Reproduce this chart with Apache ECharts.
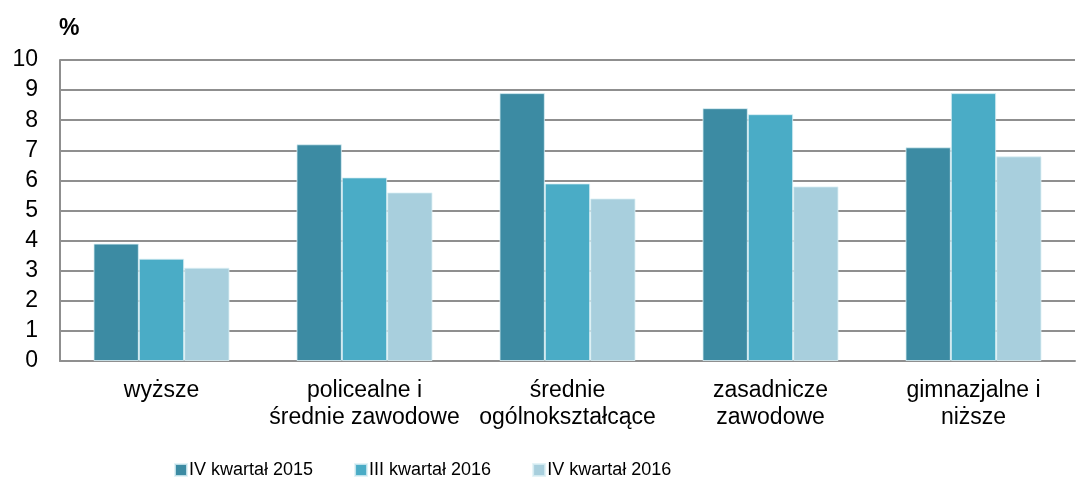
<!DOCTYPE html>
<html>
<head>
<meta charset="utf-8">
<script src="https://cdn.jsdelivr.net/npm/echarts@6/dist/echarts.min.js"></script>
<style>html,body{margin:0;padding:0;background:#fff}#c{width:1076px;height:487px}</style>
</head>
<body>
<div id="c"></div>
<script>
const categories = ['wyższe', 'policealne i\nśrednie zawodowe', 'średnie\nogólnokształcące', 'zasadnicze\nzawodowe', 'gimnazjalne i\nniższe'];
const seriesNames = ['IV kwartał 2015', 'III kwartał 2016', 'IV kwartał 2016'];
const q4_2015 = [3.9, 7.2, 8.9, 8.4, 7.1];
const q3_2016 = [3.4, 6.1, 5.9, 8.2, 8.9];
const q4_2016 = [3.1, 5.6, 5.4, 5.8, 6.8];
const colors = ['#3c8ba3', '#4aacc6', '#a8cfdd'];

const chart = echarts.init(document.getElementById('c'));
const data = [q4_2015, q3_2016, q4_2016];
chart.setOption({
  animation: false,
  color: colors,
  textStyle: { fontFamily: 'Liberation Sans, Arial, sans-serif', color: '#000' },
  title: { text: '%', left: 54, top: 12, textStyle: { fontSize: 23, fontWeight: 'bold', color: '#000', fontFamily: 'Liberation Sans' } },
  grid: { left: 60, right: 1, top: 60, bottom: 126 },
  legend: {
    bottom: 3, left: 169,
    itemWidth: 12, itemHeight: 12, itemGap: 41,
    icon: 'rect',
    textStyle: { fontSize: 18, fontFamily: 'Liberation Sans Narrow, Liberation Sans', color: '#000', padding: [0, 0, 0, -3] },
    data: seriesNames
  },
  xAxis: {
    type: 'category', data: categories,
    axisLine: { lineStyle: { color: '#8f8f8f', width: 2 } },
    axisTick: { show: false },
    axisLabel: { fontSize: 23, color: '#000', margin: 16, lineHeight: 27, interval: 0 }
  },
  yAxis: {
    type: 'value', min: 0, max: 10, interval: 1,
    axisLine: { show: true, lineStyle: { color: '#8f8f8f', width: 2 } },
    axisTick: { show: false },
    axisLabel: { fontSize: 23, color: '#000', margin: 22 },
    splitLine: { lineStyle: { color: '#8f8f8f', width: 2 } }
  },
  series: seriesNames.map((n, i) => ({
    name: n, type: 'bar', data: data[i],
    barGap: '0%', barCategoryGap: '33%',
    itemStyle: { borderColor: 'rgba(220,240,245,0.8)', borderWidth: 1 }
  }))
});
</script>
</body>
</html>
